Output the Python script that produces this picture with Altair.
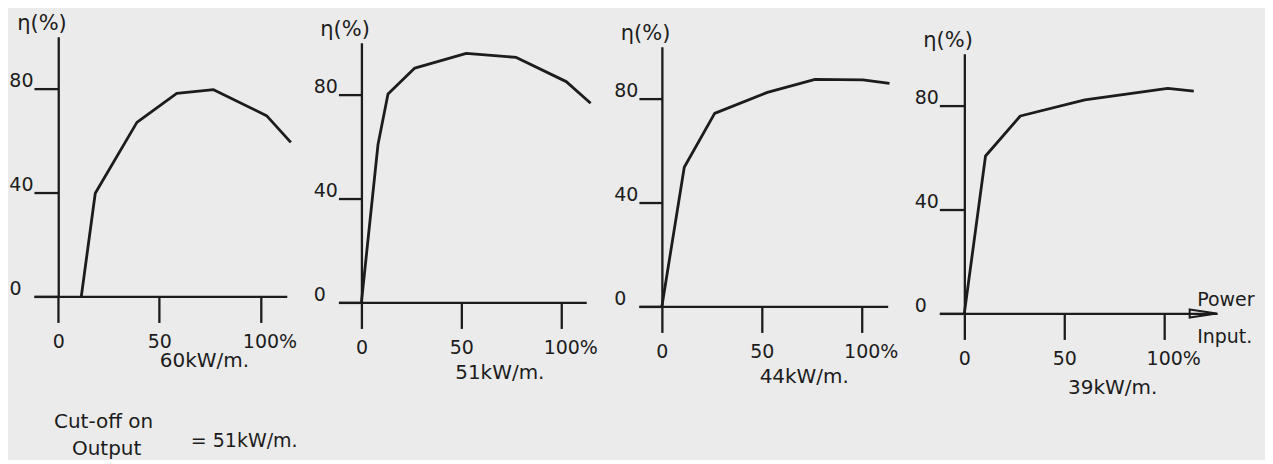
import altair as alt
import pandas as pd

# ---------------- data ----------------
p1_x = [11.4, 18.3, 38.9, 58.6, 76.8, 103.0, 115.0]
p1_y = [0.0, 39.7, 67.0, 78.2, 79.6, 69.6, 59.3]
p2_x = [0.0, 8.3, 13.3, 26.7, 52.5, 77.5, 102.5, 114.7]
p2_y = [0.0, 60.8, 80.2, 90.2, 95.9, 94.3, 85.0, 76.7]
p3_x = [0.0, 11.2, 26.4, 52.8, 76.7, 100.6, 113.9]
p3_y = [0.0, 53.6, 74.3, 82.4, 87.4, 87.2, 85.9]
p4_x = [0.0, 10.6, 28.0, 60.3, 101.8, 114.8]
p4_y = [0.0, 60.6, 76.0, 82.2, 86.6, 85.6]

xs_all = [p1_x, p2_x, p3_x, p4_x]
ys_all = [p1_y, p2_y, p3_y, p4_y]
power_labels = ["60kW/m.", "51kW/m.", "44kW/m.", "39kW/m."]
x_ticks = [0, 50, 100]
y_ticks = [0, 40, 80]
y_title = "η(%)"
cutoff_lines = ["Cut-off  on", "Output", "= 51kW/m."]
axis_end_labels = ["Power", "Input."]

# ---------------- styling / layout ----------------
INK = "#1c1c1c"
BG = "#ebebeb"
FONT = "DejaVu Sans"
FS = 19
FS2 = 20
doms = [(-12, 113), (-11.5, 112.5), (-11.5, 113), (-12.5, 126.5)]
widths = [253, 248, 249, 278]
H = 260
shifts = [1, 7, 10.5, 18]
title_cx = [72, 69, 71, 74]
title_dy = [64, 70, 70, 74]


def panel(i):
    df = pd.DataFrame({"x": xs_all[i], "y": ys_all[i]})
    dom = doms[i]
    W = widths[i]
    ppu = W / (dom[1] - dom[0])
    x0 = -dom[0] * ppu
    xscale = alt.Scale(domain=list(dom), nice=False, zero=False)
    yscale = alt.Scale(domain=[0, 100], nice=False, zero=False)
    xaxis = alt.Axis(
        values=x_ticks, grid=False, domain=True, domainColor=INK, domainWidth=2.3,
        ticks=True, tickColor=INK, tickWidth=2.3, tickSize=26,
        labelExpr="datum.value == 100 ? '100%' : datum.label",
        labelFont=FONT, labelFontSize=FS, labelColor=INK, labelPadding=10,
        labelBaseline="top", labelFlush=False, labelOverlap=False,
        labelOffset={"condition": {"test": "datum.value == 100", "value": 9}, "value": 0},
        title=power_labels[i], titleFont=FONT, titleFontSize=FS2, titleFontWeight="normal",
        titleColor=INK, titleX=(title_cx[i] - dom[0]) * ppu, titleY=title_dy[i],
        titleAlign="center", titleBaseline="middle",
    )
    yaxis = alt.Axis(
        values=y_ticks, grid=False, offset=-x0, domain=True, domainColor=INK, domainWidth=2.3,
        ticks=True, tickColor=INK, tickWidth=2.3, tickSize=x0,
        labelFont=FONT, labelFontSize=FS, labelColor=INK, labelBaseline="alphabetic",
        labelPadding={"condition": {"test": "datum.value == 0", "value": 13}, "value": 1},
        labelOffset=-2, labelOverlap=False, labelFlush=False,
        title=y_title, titleAngle=0, titleFont=FONT, titleFontSize=21, titleFontWeight="normal",
        titleColor=INK, titleX=8, titleY=-13, titleAlign="right", titleBaseline="middle",
    )
    line = alt.Chart(df).mark_line(color=INK, strokeWidth=2.8, strokeJoin="round").encode(
        x=alt.X("x:Q", scale=xscale, axis=xaxis),
        y=alt.Y("y:Q", scale=yscale, axis=yaxis),
    )
    layers = [line]
    if i == 0:
        tdf = pd.DataFrame({
            "t": cutoff_lines,
            "px": [20, 38, 157],
            "py": [386, 413, 405],
            "fs": [FS2, FS2, FS],
        })
        txt = alt.Chart(tdf).mark_text(font=FONT, color=INK, align="left",
                                       baseline="middle").encode(
            x=alt.X("px:Q", scale=None), y=alt.Y("py:Q", scale=None), text="t:N",
            size=alt.Size("fs:Q", scale=None, legend=None))
        layers.append(txt)
    if i == 3:
        adf = pd.DataFrame({"x": [119.5], "y": [0.0]})
        arrow = alt.Chart(adf).mark_point(
            shape="M -1 -0.3 L 1 0 L -1 0.3 Z", filled=False, size=729,
            color=INK, strokeWidth=2, opacity=1).encode(
            x=alt.X("x:Q", scale=xscale), y=alt.Y("y:Q", scale=yscale))
        ldf = pd.DataFrame({"t": axis_end_labels, "x": [116.5, 116.5], "y": [5.0, -9.2]})
        lab = alt.Chart(ldf).mark_text(font=FONT, fontSize=FS, color=INK, align="left",
                                       baseline="middle").encode(
            x=alt.X("x:Q", scale=xscale), y=alt.Y("y:Q", scale=yscale), text="t:N")
        layers += [arrow, lab]
    ch = alt.layer(*layers).properties(width=W, height=H)
    spacer = alt.Chart(pd.DataFrame({"v": [0]})).mark_point(opacity=0, size=0).properties(
        width=W, height=shifts[i])
    return alt.vconcat(spacer, ch, spacing=0)


chart = alt.hconcat(*[panel(i) for i in range(4)], spacing=14.7).properties(
    background=BG,
    padding={"left": 0, "top": 3.5, "right": 10, "bottom": 0},
).configure_view(stroke=None)

chart.save("out.html", embed_options={"renderer": "svg", "actions": False})
